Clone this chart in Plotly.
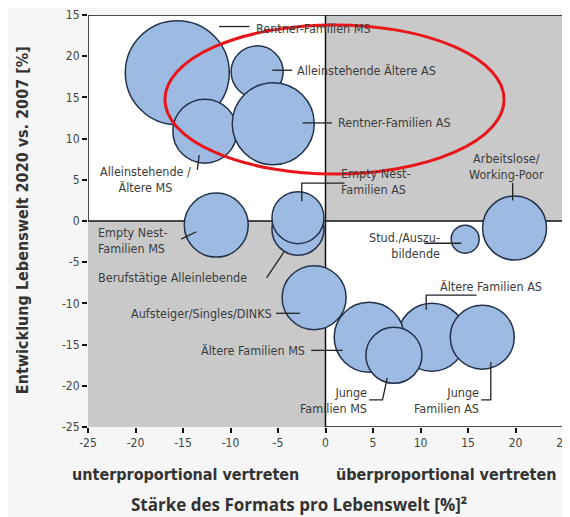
import plotly.graph_objects as go

# ---- data ----
segments = [
    "Rentner-Familien MS", "Alleinstehende Ältere AS", "Alleinstehende Ältere MS",
    "Rentner-Familien AS", "Empty Nest-Familien MS", "Berufstätige Alleinlebende",
    "Empty Nest-Familien AS", "Aufsteiger/Singles/DINKS", "Ältere Familien AS",
    "Ältere Familien MS", "Junge Familien MS", "Junge Familien AS",
    "Stud./Auszubildende", "Arbeitslose/Working-Poor",
]
format_strength = [-15.6, -7.2, -12.7, -5.5, -11.5, -2.9, -2.9, -1.2, 11.2, 4.6, 7.2, 16.5, 14.7, 19.9]
development = [18.0, 18.1, 10.9, 11.8, -0.5, -1.0, 0.4, -9.3, -14.1, -14.1, -16.3, -14.1, -2.2, -0.85]
bubble_diam = [104, 52, 64, 82, 64, 52, 52, 64, 68, 70, 56, 64, 28, 64]

x_ticks = [-25, -20, -15, -10, -5, 0, 5, 10, 15, 20, 25]
x_ticklabels = ["-25", "-20", "-15", "-10", "-5", "0", "5", "10", "15", "20", "25"]
y_ticks = [-25, -20, -15, -10, -5, 0, 5, 10, 15, 20, 25]
y_ticklabels = ["-25", "-20", "-15", "-10", "-5", "0", "5", "10", "15", "20", "15"]

# label text, anchor point (data), alignment
labels = [
    ("Rentner-Familien MS", -7.5, 23.4, "left"),
    ("Alleinstehende Ältere AS", -3.2, 18.3, "left"),
    ("Rentner-Familien AS", 1.1, 11.9, "left"),
    ("Alleinstehende /<br>Ältere MS", -18.9, 5.0, "center"),
    ("Empty Nest-<br>Familien MS", -24.2, -2.4, "left"),
    ("Berufstätige Alleinlebende", -24.2, -6.9, "left"),
    ("Aufsteiger/Singles/DINKS", -5.4, -11.2, "right"),
    ("Ältere Familien MS", -2.0, -15.7, "right"),
    ("Empty Nest-<br>Familien AS", 1.4, 4.85, "left"),
    ("Arbeitslose/<br>Working-Poor", 19.05, 6.6, "center"),
    ("Stud./Auszu-<br>bildende", 12.3, -3.0, "right"),
    ("Ältere Familien AS", 11.8, -8.0, "left"),
    ("Junge<br>Familien MS", 4.6, -21.8, "right"),
    ("Junge<br>Familien AS", 16.4, -21.8, "right"),
]
# leader lines (polyline points in data units)
leaders = [
    [(-11.2, 23.6), (-8.0, 23.6)],
    [(-5.6, 18.3), (-3.5, 18.3)],
    [(-2.4, 11.9), (0.7, 11.9)],
    [(-13.3, 8.0), (-13.5, 6.2)],
    [(-15.2, -2.2), (-13.6, -1.3)],
    [(-6.2, -6.9), (-4.4, -3.8)],
    [(-5.2, -11.2), (-2.7, -11.2)],
    [(-1.5, -15.7), (1.8, -15.7)],
    [(-2.5, 2.4), (-2.5, 4.6), (2.0, 4.6)],
    [(19.7, 4.6), (19.7, 2.5)],
    [(10.4, -2.7), (14.3, -2.7)],
    [(10.6, -10.8), (10.6, -9.0), (15.9, -9.0)],
    [(6.5, -19.05), (6.0, -21.7), (4.6, -21.7)],
    [(17.4, -17.1), (17.4, -21.7), (16.4, -21.7)],
]

COND = "DejaVu Sans Condensed, Liberation Sans Narrow, Arial Narrow, sans-serif"
LABEL_FONT = dict(family=COND, size=12.5, color="#3c3c3c")

fig = go.Figure()
fig.add_trace(go.Scatter(
    x=format_strength, y=development, mode="markers", text=segments,
    hoverinfo="text",
    marker=dict(size=bubble_diam, sizemode="diameter", color="#9dbbe2",
                opacity=1, line=dict(color="#23324a", width=1.5)),
    showlegend=False,
))

shapes = []
GRAY = "#c9c9c9"
shapes.append(dict(type="rect", xref="x", yref="y", x0=0, x1=25, y0=0, y1=25,
                   fillcolor=GRAY, line=dict(width=0), layer="below"))
shapes.append(dict(type="rect", xref="x", yref="y", x0=-25, x1=0, y0=-25, y1=0,
                   fillcolor=GRAY, line=dict(width=0), layer="below"))
BL = dict(color="#111111", width=1.5)
for (x0, y0, x1, y1) in [(-25, 25, 25, 25), (25, 25, 25, -25), (0, -25, 25, -25),
                         (-25, 0, -25, 25), (0, -25, 0, 25), (-25, 0, 25, 0)]:
    shapes.append(dict(type="line", xref="x", yref="y", x0=x0, y0=y0, x1=x1, y1=y1,
                       line=BL, layer="below"))
for pts in leaders:
    path = "M " + " L ".join(f"{px},{py}" for px, py in pts)
    shapes.append(dict(type="path", xref="x", yref="y", path=path,
                       line=dict(color="#222222", width=1.3), layer="above"))
shapes.append(dict(type="circle", xref="x", yref="y", x0=-16.9, x1=18.8, y0=5.7, y1=23.8,
                   line=dict(color="#e8161b", width=3), layer="above"))

annotations = []
for txt, ax_, ay_, al in labels:
    annotations.append(dict(x=ax_, y=ay_, xref="x", yref="y", text=txt, showarrow=False,
                            xanchor=al, yanchor="middle", align=al, font=LABEL_FONT))
SUB_FONT = dict(family=COND, size=16, color="#333333")
annotations.append(dict(x=0.206, y=-0.1165, xref="paper", yref="paper", xanchor="center",
                        yanchor="middle", text="<b>unterproportional vertreten</b>",
                        showarrow=False, font=SUB_FONT))
annotations.append(dict(x=0.754, y=-0.1165, xref="paper", yref="paper", xanchor="center",
                        yanchor="middle", text="<b>überproportional vertreten</b>",
                        showarrow=False, font=SUB_FONT))
annotations.append(dict(x=0.444, y=-0.189, xref="paper", yref="paper", xanchor="center",
                        yanchor="middle", text="<b>Stärke des Formats pro Lebenswelt [%]²</b>",
                        showarrow=False, font=dict(family="Open Sans, sans-serif", size=17, color="#333333")))
annotations.append(dict(x=-0.139, y=0.502, xref="paper", yref="paper", xanchor="center",
                        yanchor="middle", textangle=-90,
                        text="<b>Entwicklung Lebenswelt 2020 vs. 2007 [%]</b>",
                        showarrow=False, font=dict(family=COND, size=16, color="#333333")))

# page body has an 8px default margin, so the figure is sized to fit the 570x517 window
fig.update_layout(
    width=562, height=509,
    margin=dict(l=80, r=7, t=7, b=90),
    paper_bgcolor="#f6f6f6", plot_bgcolor="white",
    shapes=shapes, annotations=annotations,
    font=dict(family=COND, color="#3c3c3c"),
    xaxis=dict(range=[-25, 25], showgrid=False, zeroline=False, showline=False,
               automargin=False,
               tickmode="array", tickvals=x_ticks, ticktext=x_ticklabels,
               ticks="outside", ticklen=5, tickwidth=1.5, tickcolor="#111111",
               tickfont=dict(family=COND, size=12, color="#444444")),
    yaxis=dict(range=[-25, 25], showgrid=False, zeroline=False, showline=False,
               automargin=False,
               tickmode="array", tickvals=y_ticks, ticktext=y_ticklabels,
               ticks="outside", ticklen=5, tickwidth=1.5, tickcolor="#111111",
               tickfont=dict(family=COND, size=12, color="#444444")),
)

fig.write_html("out.html")
